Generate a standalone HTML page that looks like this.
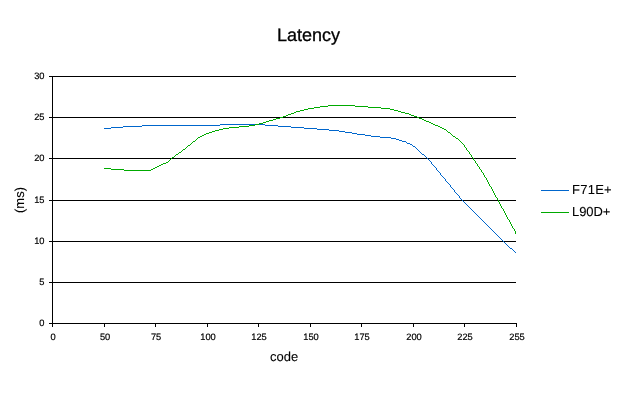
<!DOCTYPE html>
<html><head><meta charset="utf-8"><title>Latency</title>
<style>html,body{margin:0;padding:0;background:#fff;overflow:hidden}svg{display:block}</style>
</head><body>
<svg width="630" height="400" viewBox="0 0 630 400" shape-rendering="crispEdges">
<rect width="630" height="400" fill="#fff"/>
<g fill="#000"><rect x="49" y="76" width="467" height="1"/><rect x="49" y="117" width="467" height="1"/><rect x="49" y="158" width="467" height="1"/><rect x="49" y="200" width="467" height="1"/><rect x="49" y="241" width="467" height="1"/><rect x="49" y="282" width="467" height="1"/><rect x="49" y="323" width="468" height="1"/><rect x="52" y="76" width="1" height="251"/><rect x="52" y="323" width="1" height="4"/><rect x="104" y="323" width="1" height="4"/><rect x="155" y="323" width="1" height="4"/><rect x="207" y="323" width="1" height="4"/><rect x="258" y="323" width="1" height="4"/><rect x="310" y="323" width="1" height="4"/><rect x="361" y="323" width="1" height="4"/><rect x="413" y="323" width="1" height="4"/><rect x="464" y="323" width="1" height="4"/><rect x="516" y="323" width="1" height="4"/></g>
<g fill="#0066cc"><rect x="104" y="128" width="7" height="1"/><rect x="111" y="127" width="12" height="1"/><rect x="123" y="126" width="19" height="1"/><rect x="142" y="125" width="78" height="1"/><rect x="220" y="124" width="45" height="1"/><rect x="265" y="125" width="13" height="1"/><rect x="278" y="126" width="13" height="1"/><rect x="291" y="127" width="13" height="1"/><rect x="304" y="128" width="13" height="1"/><rect x="317" y="129" width="12" height="1"/><rect x="329" y="130" width="10" height="1"/><rect x="339" y="131" width="6" height="1"/><rect x="345" y="132" width="7" height="1"/><rect x="352" y="133" width="5" height="1"/><rect x="357" y="134" width="8" height="1"/><rect x="365" y="135" width="6" height="1"/><rect x="371" y="136" width="9" height="1"/><rect x="380" y="137" width="11" height="1"/><rect x="391" y="138" width="5" height="1"/><rect x="396" y="139" width="3" height="1"/><rect x="399" y="140" width="3" height="1"/><rect x="402" y="141" width="4" height="1"/><rect x="406" y="142" width="1" height="1"/><rect x="407" y="143" width="3" height="1"/><rect x="410" y="144" width="2" height="1"/><rect x="412" y="145" width="1" height="1"/><rect x="413" y="146" width="2" height="1"/><rect x="415" y="147" width="1" height="1"/><rect x="416" y="148" width="1" height="1"/><rect x="417" y="149" width="1" height="1"/><rect x="418" y="150" width="1" height="1"/><rect x="419" y="151" width="1" height="1"/><rect x="420" y="152" width="1" height="1"/><rect x="421" y="153" width="1" height="1"/><rect x="422" y="154" width="2" height="1"/><rect x="424" y="155" width="1" height="1"/><rect x="425" y="156" width="1" height="1"/><rect x="426" y="157" width="1" height="1"/><rect x="427" y="158" width="1" height="1"/><rect x="428" y="159" width="1" height="1"/><rect x="429" y="160" width="1" height="1"/><rect x="430" y="161" width="1" height="1"/><rect x="431" y="162" width="1" height="2"/><rect x="432" y="164" width="1" height="1"/><rect x="433" y="165" width="1" height="1"/><rect x="434" y="166" width="1" height="1"/><rect x="435" y="167" width="1" height="1"/><rect x="436" y="168" width="1" height="2"/><rect x="437" y="170" width="1" height="1"/><rect x="438" y="171" width="1" height="1"/><rect x="439" y="172" width="1" height="1"/><rect x="440" y="173" width="1" height="2"/><rect x="441" y="175" width="1" height="1"/><rect x="442" y="176" width="1" height="1"/><rect x="443" y="177" width="1" height="1"/><rect x="444" y="178" width="1" height="1"/><rect x="445" y="179" width="1" height="2"/><rect x="446" y="181" width="1" height="1"/><rect x="447" y="182" width="1" height="1"/><rect x="448" y="183" width="1" height="1"/><rect x="449" y="184" width="1" height="1"/><rect x="450" y="185" width="1" height="2"/><rect x="451" y="187" width="1" height="1"/><rect x="452" y="188" width="1" height="1"/><rect x="453" y="189" width="1" height="1"/><rect x="454" y="190" width="1" height="2"/><rect x="455" y="192" width="1" height="1"/><rect x="456" y="193" width="1" height="1"/><rect x="457" y="194" width="1" height="1"/><rect x="458" y="195" width="1" height="1"/><rect x="459" y="196" width="1" height="2"/><rect x="460" y="198" width="1" height="1"/><rect x="461" y="199" width="1" height="1"/><rect x="462" y="200" width="1" height="1"/><rect x="463" y="201" width="1" height="1"/><rect x="464" y="202" width="1" height="1"/><rect x="465" y="203" width="1" height="1"/><rect x="466" y="204" width="1" height="1"/><rect x="467" y="205" width="1" height="1"/><rect x="468" y="206" width="1" height="1"/><rect x="469" y="207" width="1" height="1"/><rect x="470" y="208" width="1" height="1"/><rect x="471" y="209" width="1" height="1"/><rect x="472" y="210" width="1" height="1"/><rect x="473" y="211" width="1" height="1"/><rect x="474" y="212" width="1" height="1"/><rect x="475" y="213" width="1" height="1"/><rect x="476" y="214" width="1" height="1"/><rect x="477" y="215" width="1" height="1"/><rect x="478" y="216" width="1" height="1"/><rect x="479" y="217" width="1" height="1"/><rect x="480" y="218" width="1" height="1"/><rect x="481" y="219" width="1" height="1"/><rect x="482" y="220" width="1" height="1"/><rect x="483" y="221" width="1" height="1"/><rect x="484" y="222" width="1" height="1"/><rect x="485" y="223" width="1" height="1"/><rect x="486" y="224" width="1" height="1"/><rect x="487" y="225" width="1" height="1"/><rect x="488" y="226" width="1" height="1"/><rect x="489" y="227" width="1" height="1"/><rect x="490" y="228" width="1" height="1"/><rect x="491" y="229" width="1" height="1"/><rect x="492" y="230" width="1" height="1"/><rect x="493" y="231" width="1" height="1"/><rect x="494" y="232" width="1" height="1"/><rect x="495" y="233" width="1" height="1"/><rect x="496" y="234" width="1" height="1"/><rect x="497" y="235" width="1" height="1"/><rect x="498" y="236" width="1" height="1"/><rect x="499" y="237" width="1" height="1"/><rect x="500" y="238" width="1" height="1"/><rect x="501" y="239" width="1" height="1"/><rect x="502" y="240" width="1" height="1"/><rect x="503" y="241" width="1" height="1"/><rect x="504" y="242" width="1" height="1"/><rect x="505" y="243" width="1" height="1"/><rect x="506" y="244" width="1" height="1"/><rect x="507" y="245" width="1" height="1"/><rect x="508" y="246" width="1" height="1"/><rect x="509" y="247" width="1" height="1"/><rect x="510" y="248" width="2" height="1"/><rect x="512" y="249" width="1" height="1"/><rect x="513" y="250" width="1" height="1"/><rect x="514" y="251" width="1" height="1"/><rect x="515" y="252" width="1" height="1"/></g>
<g fill="#00aa00"><rect x="104" y="168" width="7" height="1"/><rect x="111" y="169" width="13" height="1"/><rect x="124" y="170" width="27" height="1"/><rect x="151" y="169" width="2" height="1"/><rect x="153" y="168" width="2" height="1"/><rect x="155" y="167" width="2" height="1"/><rect x="157" y="166" width="2" height="1"/><rect x="159" y="165" width="2" height="1"/><rect x="161" y="164" width="2" height="1"/><rect x="163" y="163" width="3" height="1"/><rect x="166" y="162" width="2" height="1"/><rect x="168" y="161" width="1" height="1"/><rect x="169" y="160" width="1" height="1"/><rect x="170" y="159" width="1" height="1"/><rect x="171" y="158" width="1" height="1"/><rect x="172" y="157" width="2" height="1"/><rect x="174" y="156" width="1" height="1"/><rect x="175" y="155" width="1" height="1"/><rect x="176" y="154" width="2" height="1"/><rect x="178" y="153" width="1" height="1"/><rect x="179" y="152" width="2" height="1"/><rect x="181" y="151" width="1" height="1"/><rect x="182" y="150" width="1" height="1"/><rect x="183" y="149" width="2" height="1"/><rect x="185" y="148" width="1" height="1"/><rect x="186" y="147" width="1" height="1"/><rect x="187" y="146" width="1" height="1"/><rect x="188" y="145" width="2" height="1"/><rect x="190" y="144" width="1" height="1"/><rect x="191" y="143" width="1" height="1"/><rect x="192" y="142" width="1" height="1"/><rect x="193" y="141" width="2" height="1"/><rect x="195" y="140" width="1" height="1"/><rect x="196" y="139" width="1" height="1"/><rect x="197" y="138" width="1" height="1"/><rect x="198" y="137" width="2" height="1"/><rect x="200" y="136" width="2" height="1"/><rect x="202" y="135" width="2" height="1"/><rect x="204" y="134" width="2" height="1"/><rect x="206" y="133" width="3" height="1"/><rect x="209" y="132" width="3" height="1"/><rect x="212" y="131" width="3" height="1"/><rect x="215" y="130" width="4" height="1"/><rect x="219" y="129" width="4" height="1"/><rect x="223" y="128" width="6" height="1"/><rect x="229" y="127" width="10" height="1"/><rect x="239" y="126" width="10" height="1"/><rect x="249" y="125" width="6" height="1"/><rect x="255" y="124" width="4" height="1"/><rect x="259" y="123" width="4" height="1"/><rect x="263" y="122" width="3" height="1"/><rect x="266" y="121" width="3" height="1"/><rect x="269" y="120" width="4" height="1"/><rect x="273" y="119" width="3" height="1"/><rect x="276" y="118" width="4" height="1"/><rect x="280" y="117" width="3" height="1"/><rect x="283" y="116" width="3" height="1"/><rect x="286" y="115" width="2" height="1"/><rect x="288" y="114" width="3" height="1"/><rect x="291" y="113" width="3" height="1"/><rect x="294" y="112" width="2" height="1"/><rect x="296" y="111" width="4" height="1"/><rect x="300" y="110" width="4" height="1"/><rect x="304" y="109" width="4" height="1"/><rect x="308" y="108" width="6" height="1"/><rect x="314" y="107" width="6" height="1"/><rect x="320" y="106" width="8" height="1"/><rect x="328" y="105" width="27" height="1"/><rect x="355" y="106" width="13" height="1"/><rect x="368" y="107" width="13" height="1"/><rect x="381" y="108" width="9" height="1"/><rect x="390" y="109" width="4" height="1"/><rect x="394" y="110" width="4" height="1"/><rect x="398" y="111" width="3" height="1"/><rect x="401" y="112" width="4" height="1"/><rect x="405" y="113" width="4" height="1"/><rect x="409" y="114" width="2" height="1"/><rect x="411" y="115" width="3" height="1"/><rect x="414" y="116" width="3" height="1"/><rect x="417" y="117" width="2" height="1"/><rect x="419" y="118" width="3" height="1"/><rect x="422" y="119" width="2" height="1"/><rect x="424" y="120" width="2" height="1"/><rect x="426" y="121" width="3" height="1"/><rect x="429" y="122" width="2" height="1"/><rect x="431" y="123" width="2" height="1"/><rect x="433" y="124" width="2" height="1"/><rect x="435" y="125" width="3" height="1"/><rect x="438" y="126" width="2" height="1"/><rect x="440" y="127" width="2" height="1"/><rect x="442" y="128" width="2" height="1"/><rect x="444" y="129" width="2" height="1"/><rect x="446" y="130" width="1" height="1"/><rect x="447" y="131" width="1" height="1"/><rect x="448" y="132" width="2" height="1"/><rect x="450" y="133" width="1" height="1"/><rect x="451" y="134" width="1" height="1"/><rect x="452" y="135" width="1" height="1"/><rect x="453" y="136" width="2" height="1"/><rect x="455" y="137" width="1" height="1"/><rect x="456" y="138" width="2" height="1"/><rect x="458" y="139" width="1" height="1"/><rect x="459" y="140" width="1" height="1"/><rect x="460" y="141" width="1" height="1"/><rect x="461" y="142" width="1" height="1"/><rect x="462" y="143" width="1" height="1"/><rect x="463" y="144" width="1" height="1"/><rect x="464" y="145" width="1" height="2"/><rect x="465" y="147" width="1" height="1"/><rect x="466" y="148" width="1" height="2"/><rect x="467" y="150" width="1" height="1"/><rect x="468" y="151" width="1" height="1"/><rect x="469" y="152" width="1" height="2"/><rect x="470" y="154" width="1" height="1"/><rect x="471" y="155" width="1" height="2"/><rect x="472" y="157" width="1" height="1"/><rect x="473" y="158" width="1" height="2"/><rect x="474" y="160" width="1" height="1"/><rect x="475" y="161" width="1" height="2"/><rect x="476" y="163" width="1" height="1"/><rect x="477" y="164" width="1" height="2"/><rect x="478" y="166" width="1" height="1"/><rect x="479" y="167" width="1" height="2"/><rect x="480" y="169" width="1" height="1"/><rect x="481" y="170" width="1" height="2"/><rect x="482" y="172" width="1" height="1"/><rect x="483" y="173" width="1" height="2"/><rect x="484" y="175" width="1" height="2"/><rect x="485" y="177" width="1" height="1"/><rect x="486" y="178" width="1" height="2"/><rect x="487" y="180" width="1" height="2"/><rect x="488" y="182" width="1" height="2"/><rect x="489" y="184" width="1" height="2"/><rect x="490" y="186" width="1" height="1"/><rect x="491" y="187" width="1" height="2"/><rect x="492" y="189" width="1" height="2"/><rect x="493" y="191" width="1" height="2"/><rect x="494" y="193" width="1" height="2"/><rect x="495" y="195" width="1" height="2"/><rect x="496" y="197" width="1" height="1"/><rect x="497" y="198" width="1" height="2"/><rect x="498" y="200" width="1" height="2"/><rect x="499" y="202" width="1" height="2"/><rect x="500" y="204" width="1" height="2"/><rect x="501" y="206" width="1" height="2"/><rect x="502" y="208" width="1" height="1"/><rect x="503" y="209" width="1" height="2"/><rect x="504" y="211" width="1" height="2"/><rect x="505" y="213" width="1" height="2"/><rect x="506" y="215" width="1" height="2"/><rect x="507" y="217" width="1" height="2"/><rect x="508" y="219" width="1" height="1"/><rect x="509" y="220" width="1" height="2"/><rect x="510" y="222" width="1" height="2"/><rect x="511" y="224" width="1" height="2"/><rect x="512" y="226" width="1" height="2"/><rect x="513" y="228" width="1" height="1"/><rect x="514" y="229" width="1" height="2"/><rect x="515" y="231" width="1" height="3"/></g>
<rect x="541" y="190" width="28" height="1" fill="#0066cc"/>
<rect x="541" y="212" width="28" height="1" fill="#00aa00"/>
<g font-family="Liberation Sans, sans-serif" fill="#000" stroke="#000" stroke-width="0.3" opacity="0.999" text-rendering="geometricPrecision"><text x="308.4" y="40.9" font-size="18" text-anchor="middle">Latency</text><text x="44.3" y="78.7" font-size="9.3" stroke-width="0.2" letter-spacing="-0.15" text-anchor="end">30</text><text x="44.3" y="119.7" font-size="9.3" stroke-width="0.2" letter-spacing="-0.15" text-anchor="end">25</text><text x="44.3" y="160.7" font-size="9.3" stroke-width="0.2" letter-spacing="-0.15" text-anchor="end">20</text><text x="44.3" y="202.7" font-size="9.3" stroke-width="0.2" letter-spacing="-0.15" text-anchor="end">15</text><text x="44.3" y="243.7" font-size="9.3" stroke-width="0.2" letter-spacing="-0.15" text-anchor="end">10</text><text x="44.3" y="284.7" font-size="9.3" stroke-width="0.2" letter-spacing="-0.15" text-anchor="end">5</text><text x="44.3" y="325.7" font-size="9.3" stroke-width="0.2" letter-spacing="-0.15" text-anchor="end">0</text><text x="52.9" y="339.8" font-size="9.3" stroke-width="0.2" letter-spacing="-0.15" text-anchor="middle">0</text><text x="104.9" y="339.8" font-size="9.3" stroke-width="0.2" letter-spacing="-0.15" text-anchor="middle">50</text><text x="155.9" y="339.8" font-size="9.3" stroke-width="0.2" letter-spacing="-0.15" text-anchor="middle">75</text><text x="207.9" y="339.8" font-size="9.3" stroke-width="0.2" letter-spacing="-0.15" text-anchor="middle">100</text><text x="258.9" y="339.8" font-size="9.3" stroke-width="0.2" letter-spacing="-0.15" text-anchor="middle">125</text><text x="310.9" y="339.8" font-size="9.3" stroke-width="0.2" letter-spacing="-0.15" text-anchor="middle">150</text><text x="361.9" y="339.8" font-size="9.3" stroke-width="0.2" letter-spacing="-0.15" text-anchor="middle">175</text><text x="413.9" y="339.8" font-size="9.3" stroke-width="0.2" letter-spacing="-0.15" text-anchor="middle">200</text><text x="464.9" y="339.8" font-size="9.3" stroke-width="0.2" letter-spacing="-0.15" text-anchor="middle">225</text><text x="516.9" y="339.8" font-size="9.3" stroke-width="0.2" letter-spacing="-0.15" text-anchor="middle">255</text><text x="284.2" y="360.6" font-size="13" stroke-width="0.1" text-anchor="middle" letter-spacing="0.05">code</text><text transform="translate(24.2 200) rotate(-90)" font-size="13" stroke-width="0.1" text-anchor="middle">(ms)</text><text x="572" y="194" font-size="13" stroke-width="0.1" letter-spacing="0.25">F71E+</text><text x="572" y="216" font-size="13" stroke-width="0.1" letter-spacing="-0.1">L90D+</text></g>
</svg>
</body></html>
